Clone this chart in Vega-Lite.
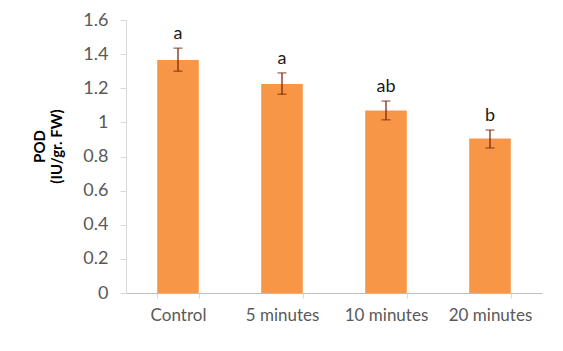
{
  "$schema": "https://vega.github.io/schema/vega-lite/v6.json",
  "width": 416,
  "height": 273,
  "autosize": {"type": "none"},
  "padding": {"left": 126, "top": 20, "right": 21, "bottom": 58},
  "background": "white",
  "config": {
    "view": {"stroke": null},
    "font": "Lato",
    "axisY": {
      "titleFont": "Lato",
      "titleFontWeight": "bold",
      "titleFontSize": 15,
      "titleColor": "#000000",
      "titleX": -79,
      "titleY": 126,
      "titleBaseline": "bottom",
      "titleLineHeight": 17,
      "labelOverlap": false,
      "labelFont": "Lato",
      "labelFontSize": 18,
      "labelColor": "#595959",
      "labelPadding": 12,
      "domainColor": "#d9d9d9",
      "tickColor": "#d9d9d9",
      "tickSize": 6,
      "grid": false
    }
  },
  "data": {
    "values": [
      {"treatment": "Control", "pod": 1.365, "lower": 1.30, "upper": 1.435, "group": "a"},
      {"treatment": "5 minutes", "pod": 1.225, "lower": 1.165, "upper": 1.29, "group": "a"},
      {"treatment": "10 minutes", "pod": 1.07, "lower": 1.015, "upper": 1.125, "group": "ab"},
      {"treatment": "20 minutes", "pod": 0.905, "lower": 0.85, "upper": 0.955, "group": "b"}
    ]
  },
  "encoding": {
    "x": {
      "field": "treatment",
      "type": "nominal",
      "sort": null,
      "scale": {"paddingInner": 0.6, "paddingOuter": 0.3},
      "axis": {
        "title": null,
        "labelAngle": 0,
        "labelFont": "Lato",
        "labelFontSize": 17,
        "labelColor": "#595959",
        "labelPadding": 9,
        "labelOverlap": false,
        "domainColor": "#bfbfbf",
        "tickColor": "#d9d9d9",
        "tickBand": "extent",
        "tickSize": 5
      }
    }
  },
  "layer": [
    {
      "mark": {"type": "bar", "color": "#f79646"},
      "encoding": {
        "y": {
          "field": "pod",
          "type": "quantitative",
          "scale": {"domain": [0, 1.6]},
          "axis": {"title": ["POD", "(IU/gr. FW)"], "values": [0, 0.2, 0.4, 0.6, 0.8, 1, 1.2, 1.4, 1.6], "labelExpr": "'' + datum.value"}
        }
      }
    },
    {
      "mark": {"type": "rule", "color": "#7a2a10", "strokeWidth": 1.3},
      "encoding": {
        "y": {"field": "lower", "type": "quantitative", "axis": {"title": ["POD", "(IU/gr. FW)"], "values": [0, 0.2, 0.4, 0.6, 0.8, 1, 1.2, 1.4, 1.6], "labelExpr": "'' + datum.value"}},
        "y2": {"field": "upper"}
      }
    },
    {
      "mark": {"type": "tick", "color": "#7a2a10", "size": 9, "thickness": 1.3, "orient": "horizontal"},
      "encoding": {"y": {"field": "lower", "type": "quantitative", "axis": {"title": ["POD", "(IU/gr. FW)"], "values": [0, 0.2, 0.4, 0.6, 0.8, 1, 1.2, 1.4, 1.6], "labelExpr": "'' + datum.value"}}}
    },
    {
      "mark": {"type": "tick", "color": "#7a2a10", "size": 9, "thickness": 1.3, "orient": "horizontal"},
      "encoding": {"y": {"field": "upper", "type": "quantitative", "axis": {"title": ["POD", "(IU/gr. FW)"], "values": [0, 0.2, 0.4, 0.6, 0.8, 1, 1.2, 1.4, 1.6], "labelExpr": "'' + datum.value"}}}
    },
    {
      "mark": {"type": "text", "baseline": "bottom", "dy": -5, "fontSize": 18, "font": "Lato", "color": "#1a1a1a"},
      "encoding": {
        "y": {"field": "upper", "type": "quantitative", "axis": {"title": ["POD", "(IU/gr. FW)"], "values": [0, 0.2, 0.4, 0.6, 0.8, 1, 1.2, 1.4, 1.6], "labelExpr": "'' + datum.value"}},
        "text": {"field": "group"}
      }
    }
  ]
}
